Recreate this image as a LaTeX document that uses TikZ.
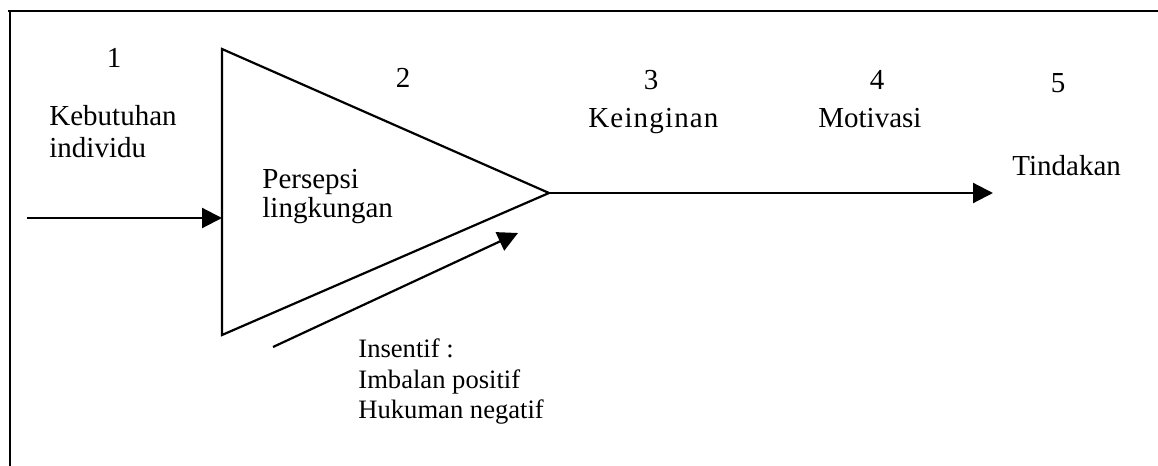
\documentclass[tikz,border=0pt]{standalone}
\usepackage{fontspec}
\setmainfont{Liberation Serif}
\usetikzlibrary{arrows.meta}

\tikzset{
  line/.style={line width=1.1pt, black},
  arr/.style={line, -{Triangle[length=10pt,width=10pt]}},
  lbl/.style={inner sep=0pt, anchor=base west, font=\fontsize{14.5}{16}\selectfont},
  num/.style={inner sep=0pt, anchor=base, font=\fontsize{14.5}{16}\selectfont},
  note/.style={inner sep=0pt, anchor=base west, font=\fontsize{13.3}{15}\selectfont}
}

\begin{document}
\begin{tikzpicture}[x=0.5pt, y=-0.5pt]
  \useasboundingbox (0,0) rectangle (1158,466);

  % frame: top and left rules only
  \coordinate (fTL) at (10,11);
  \coordinate (fTR) at (1158,11);
  \coordinate (fBL) at (10,466);
  \draw[line] (8,11) -- (fTR);
  \draw[line] (fTL) -- (fBL);

  % perception triangle
  \coordinate (tA) at (222,49);
  \coordinate (tB) at (222,335);
  \coordinate (tip) at (549,193);
  \draw[line, line join=miter] (tA) -- (tip) -- (tB) -- cycle;

  % arrows
  \coordinate (inS) at (27,218);
  \coordinate (inE) at (222,218);
  \coordinate (outE) at (993,193);
  \coordinate (dS) at (273,347);
  \coordinate (dE) at (518,233);
  \draw[arr] (inS) -- (inE);
  \draw[arr] (tip) -- (outE);
  \draw[arr] (dS) -- (dE);

  % step numbers
  \node[num] (n1) at (114,68) {1};
  \node[num] (n2) at (403,87) {2};
  \node[num] (n3) at (651,90) {3};
  \node[num] (n4) at (877,90) {4};
  \node[num] (n5) at (1058,92) {5};

  % labels
  \node[lbl] (kebutuhan) at (49,125) {Kebutuhan};
  \node[lbl] (individu) at (49,157) {individu};
  \node[lbl] (persepsi) at (262,188) {Persepsi};
  \node[lbl] (lingkungan) at (262,217) {lingkungan};
  \node[lbl] (keinginan) at (588,127) {\addfontfeatures{LetterSpace=4}Keinginan};
  \node[lbl] (motivasi) at (818,127) {Motivasi};
  \node[lbl] (tindakan) at (1012,175) {Tindakan};

  % incentive note
  \node[note] (insentif) at (358,357) {Insentif :};
  \node[note] (imbalan) at (358,388) {Imbalan positif};
  \node[note] (hukuman) at (358,418) {Hukuman negatif};
\end{tikzpicture}
\end{document}
